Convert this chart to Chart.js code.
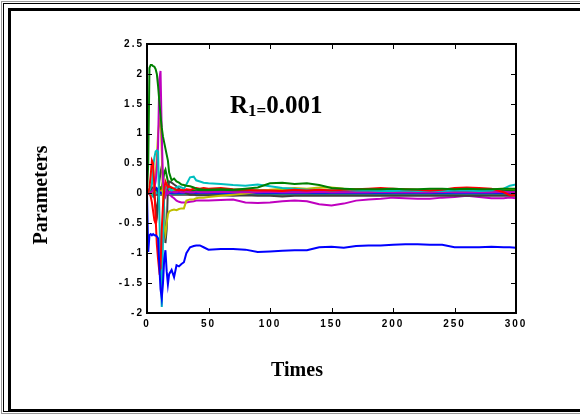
<!DOCTYPE html>
<html>
<head>
<meta charset="utf-8">
<title>Parameters vs Times</title>
<script src="https://cdn.jsdelivr.net/npm/chart.js@4/dist/chart.umd.min.js"></script>
<style>
	body { margin: 0; background: #fff; }
	canvas { display: block; }
</style>
</head>
<body>
<canvas id="params-chart" width="580" height="416"></canvas>

<script>

	// sample times shared by every parameter trace
	var times = [0, 1, 2, 3, 4, 5, 6, 7, 8, 9, 10, 11, 12, 13, 14, 15, 16, 17, 18,
		20, 22, 24, 26, 28, 30, 32, 35, 38, 40, 43, 46,
		50, 60, 70, 80, 90, 100, 110, 120, 130, 140, 150, 160, 170, 180, 190, 200,
		210, 220, 230, 240, 250, 260, 270, 280, 290, 295, 300];

	var blue1 = [0, -0.98, -0.7, -0.68, -0.7, -0.68, -0.7, -0.7, -0.72, -0.75, -1.2, -1.6, -1.75, -1.5, -1.1, -0.95, -1.3, -1.52, -1.35,
		-1.28, -1.4, -1.2, -1.22, -1.18, -1.15, -1.0, -0.9, -0.88, -0.87, -0.87, -0.9,
		-0.94, -0.93, -0.93, -0.94, -0.98, -0.97, -0.96, -0.95, -0.95, -0.9, -0.89, -0.91, -0.88, -0.87, -0.87, -0.86,
		-0.85, -0.85, -0.86, -0.86, -0.9, -0.9, -0.9, -0.89, -0.9, -0.9, -0.91];
	var green1 = [0, 0.5, 2.1, 2.15, 2.15, 2.13, 2.12, 2.08, 2.0, 1.8, 1.55, 1.3, 1.1, 0.95, 0.85, 0.75, 0.65, 0.55, 0.35,
		0.22, 0.25, 0.2, 0.18, 0.15, 0.14, 0.13, 0.12, 0.1, 0.08, 0.07, 0.06,
		0.06, 0.07, 0.06, 0.08, 0.1, 0.17, 0.18, 0.16, 0.17, 0.14, 0.09, 0.08, 0.07, 0.07, 0.07, 0.08,
		0.07, 0.07, 0.08, 0.08, 0.07, 0.08, 0.07, 0.07, 0.08, 0.08, 0.08];
	var red1 = [0, 0, 0.1, 0.3, 0.55, 0.5, 0.1, -0.4, -0.85, -1.1, -1.3, -1.25, -0.6, -0.2, 0.05, 0.2, 0.15, 0.1, 0.12,
		0.1, 0.08, 0.06, 0.05, 0.06, 0.05, 0.07, 0.06, 0.08, 0.09, 0.08, 0.09,
		0.08, 0.09, 0.07, 0.06, 0.05, 0.05, 0.04, 0.06, 0.05, 0.06, 0.05, 0.06, 0.07, 0.08, 0.09, 0.08,
		0.07, 0.06, 0.05, 0.06, 0.09, 0.1, 0.09, 0.08, 0.02, -0.03, -0.03];
	var cyan1 = [0, 0, 0.05, 0.1, 0.15, 0.45, 0.6, 0.7, 0.72, 0.7, -0.3, -1.2, -1.9, -0.8, 0.02, 0.1, 0.12, 0.1, 0.08,
		0.05, 0.08, 0.1, 0.12, 0.1, 0.08, 0.15, 0.27, 0.28, 0.22, 0.2, 0.18,
		0.17, 0.16, 0.14, 0.13, 0.15, 0.12, 0.09, 0.08, 0.06, 0.06, 0.05, 0.06, 0.05, 0.05, 0.04, 0.04,
		0.05, 0.04, 0.05, 0.04, 0.05, 0.05, 0.04, 0.05, 0.08, 0.13, 0.15];
	var magenta1 = [0, 0, 0, 0.02, 0.03, 0.05, 0.1, 0.2, 0.4, 0.8, 1.9, 2.05, 1.0, 0.2, 0.0, -0.05, 0.05, 0.0, 0.02,
		0.03, 0.02, 0.02, 0.03, 0.02, 0.02, 0.03, 0.02, 0.02, 0.03, 0.02, 0.02,
		0.02, 0.03, 0.02, 0.02, 0.02, 0.03, 0.02, 0.02, 0.02, 0.03, 0.02, 0.02, 0.02, 0.02, 0.03, 0.02,
		0.02, 0.02, 0.02, 0.03, 0.02, 0.02, 0.02, 0.02, 0.03, 0.02, 0.02];
	var yellow1 = [0, 0, 0, 0, 0.02, 0.05, 0.1, 0.3, 0.6, 1.0, 1.2, 1.28, 0.7, -0.1, -0.55, -0.67, -0.5, -0.35, -0.3,
		-0.28, -0.27, -0.28, -0.26, -0.25, -0.25, -0.12, -0.1, -0.1, -0.08, -0.07, -0.07,
		-0.06, -0.04, -0.02, 0.0, 0.03, 0.06, 0.08, 0.09, 0.08, 0.1, 0.1, 0.08, 0.07, 0.06, 0.06, 0.05,
		0.06, 0.05, 0.06, 0.07, 0.06, 0.06, 0.07, 0.07, 0.08, 0.08, 0.07];
	var gray1 = [0, 0, 0, 0.05, 0.1, 0.05, -0.05, -0.2, -0.35, -0.1, 0.2, 0.35, 0.45, 0.3, -0.3, -0.83, -0.6, 0.1, 0.2,
		0.18, 0.15, 0.12, 0.08, 0.05, 0.02, 0.0, -0.02, -0.02, -0.03, -0.03, -0.03,
		-0.03, -0.03, -0.04, -0.03, -0.04, -0.04, -0.05, -0.04, -0.04, -0.04, -0.04, -0.04, -0.04, -0.04, -0.04, -0.04,
		-0.04, -0.04, -0.04, -0.04, -0.04, -0.04, -0.04, -0.04, -0.04, -0.04, -0.04];
	var blue2 = [0, 0, 0, 0.02, 0.03, 0.05, 0.08, 0.1, 0.08, 0.03, 0.01, 0.01, 0.0, 0.01, 0.01, 0.01, 0.01, 0.01, 0.01,
		0.01, 0.01, 0.01, 0.01, 0.01, 0.01, 0.01, 0.01, 0.01, 0.01, 0.01, 0.01,
		0.01, 0.01, 0.01, 0.01, 0.01, 0.01, 0.01, 0.01, 0.01, 0.01, 0.01, 0.01, 0.01, 0.01, 0.01, 0.01,
		0.01, 0.01, 0.01, 0.01, 0.01, 0.01, 0.01, 0.01, 0.01, 0.01, 0.01];
	var green2 = [0, 0, 0, 0.02, 0.03, 0.05, 0.05, 0.06, 0.05, 0.08, 0.1, 0.08, 0.1, 0.2, 0.35, 0.4, 0.3, 0.2, 0.1,
		0.08, 0.07, 0.06, 0.06, 0.05, 0.05, 0.05, 0.05, 0.05, 0.05, 0.05, 0.05,
		0.05, 0.05, 0.05, 0.05, 0.05, 0.05, 0.05, 0.05, 0.05, 0.05, 0.05, 0.05, 0.05, 0.05, 0.05, 0.05,
		0.05, 0.05, 0.05, 0.05, 0.05, 0.05, 0.05, 0.05, 0.05, 0.05, 0.05];
	var red2 = [0, 0, 0, -0.05, -0.15, -0.3, -0.45, -0.5, -0.4, -0.2, 0.05, 0.1, 0.08, 0.05, 0.03, 0.02, 0.02, 0.02, 0.02,
		0.02, 0.02, 0.02, 0.03, 0.02, 0.02, 0.02, 0.02, 0.02, 0.02, 0.02, 0.02,
		0.02, 0.02, 0.03, 0.02, 0.02, 0.02, 0.02, 0.02, 0.02, 0.02, 0.02, 0.02, 0.02, 0.02, 0.02, 0.02,
		0.02, 0.02, 0.02, 0.02, 0.03, 0.03, 0.02, 0.02, 0.02, 0.02, 0.02];
	var cyan2 = [0, 0, 0, 0.0, -0.02, -0.05, -0.02, 0.0, 0.02, 0.0, -0.02, 0.0, 0.02, 0.0, 0.0, 0.0, 0.0, 0.0, 0.0,
		0.0, 0.0, 0.0, 0.0, 0.0, 0.0, 0.0, 0.0, 0.0, 0.0, 0.0, 0.0,
		0.0, 0.0, 0.0, 0.0, 0.0, 0.0, 0.0, 0.0, 0.0, 0.0, 0.0, 0.0, 0.0, 0.0, 0.0, 0.0,
		0.0, 0.0, 0.0, 0.0, 0.0, 0.0, 0.0, 0.0, 0.0, 0.0, 0.0];
	var magenta2 = [0, 0, 0, 0.0, 0.02, 0.03, 0.02, 0.0, 0.0, 0.02, 0.03, 0.02, 0.0, 0.02, 0.02, 0.0, 0.0, 0.0, 0.0,
		-0.05, -0.08, -0.12, -0.14, -0.15, -0.15, -0.15, -0.14, -0.13, -0.12, -0.12, -0.12,
		-0.12, -0.11, -0.1, -0.15, -0.16, -0.15, -0.13, -0.12, -0.13, -0.18, -0.2, -0.17, -0.12, -0.1, -0.09, -0.07,
		-0.08, -0.09, -0.09, -0.07, -0.06, -0.04, -0.06, -0.08, -0.08, -0.07, -0.08];
	var yellow2 = [0, 0, 0, 0.0, 0.0, 0.02, 0.03, 0.05, 0.05, 0.05, 0.06, 0.05, 0.05, 0.06, 0.05, 0.05, 0.05, 0.05, 0.05,
		0.05, 0.05, 0.05, 0.05, 0.05, 0.05, 0.05, 0.05, 0.05, 0.05, 0.05, 0.05,
		0.05, 0.05, 0.05, 0.05, 0.05, 0.05, 0.06, 0.06, 0.06, 0.06, 0.06, 0.06, 0.06, 0.06, 0.06, 0.06,
		0.06, 0.06, 0.06, 0.06, 0.06, 0.06, 0.06, 0.06, 0.06, 0.06, 0.06];
	var gray2 = [0, 0, 0, -0.02, -0.03, -0.05, -0.03, -0.02, -0.02, -0.02, -0.02, -0.02, -0.02, -0.02, -0.02, -0.02, -0.02, -0.02, -0.02,
		-0.02, -0.02, -0.02, -0.02, -0.02, -0.02, -0.02, -0.02, -0.02, -0.02, -0.02, -0.02,
		-0.02, -0.02, -0.02, -0.02, -0.02, -0.02, -0.02, -0.02, -0.02, -0.02, -0.02, -0.02, -0.02, -0.02, -0.02, -0.02,
		-0.02, -0.02, -0.02, -0.02, -0.02, -0.02, -0.02, -0.02, -0.02, -0.02, -0.02];

	var seriesList = [blue1, green1, red1, cyan1, magenta1, yellow1, gray1,
		blue2, green2, red2, cyan2, magenta2, yellow2, gray2];
	var seriesColors = ['#0000ff', '#008000', '#ff0000', '#00bfbf', '#bf00bf', '#bfbf00', '#404040'];

	var xTicks = [0, 50, 100, 150, 200, 250, 300];
	var yTicks = [-2, -1.5, -1, -0.5, 0, 0.5, 1, 1.5, 2, 2.5];

	function toPoints(values) {
		return times.map(function (t, i) { return { x: t, y: values[i] }; });
	}

	var datasets = [];
	for (i = 0; i < seriesList.length; i++) {
		datasets.push({
			data: toPoints(seriesList[i]),
			borderColor: seriesColors[i % seriesColors.length],
			borderWidth: 2,
			pointRadius: 0,
			tension: 0,
			fill: false
		});
	}

	var tickFont = { family: '"Liberation Sans", Arial, sans-serif', size: 10, weight: 'bold' };

	// white page with the double frame around the figure
	var framePlugin = {
		id: 'frame',
		beforeDraw: function (chart) {
			var ctx = chart.ctx;
			ctx.save();
			ctx.fillStyle = '#fff';
			ctx.fillRect(0, 0, chart.width, chart.height);
			ctx.strokeStyle = '#999';
			ctx.lineWidth = 1;
			ctx.strokeRect(1.5, 1.5, 800, 412);
			ctx.strokeStyle = '#000';
			ctx.strokeRect(3.5, 3.5, 800, 408);
			ctx.lineWidth = 3;
			ctx.strokeRect(9.5, 9.5, 800, 401);
			ctx.restore();
			// spaced-out tick digits
			ctx.letterSpacing = '2px';
		}
	};

	// closed box with inward tick marks, plus the text labels
	var boxPlugin = {
		id: 'box',
		afterDraw: function (chart) {
			var ctx = chart.ctx;
			var a = chart.chartArea;
			var xs = chart.scales.x;
			var ys = chart.scales.y;
			ctx.save();
			ctx.letterSpacing = '0px';
			ctx.strokeStyle = '#000';
			ctx.lineWidth = 1;
			ctx.beginPath();
			xTicks.forEach(function (v) {
				var px = Math.round(xs.getPixelForValue(v)) + 0.5;
				ctx.moveTo(px, a.bottom); ctx.lineTo(px, a.bottom - 5);
				ctx.moveTo(px, a.top); ctx.lineTo(px, a.top + 5);
			});
			yTicks.forEach(function (v) {
				var py = Math.round(ys.getPixelForValue(v)) + 0.5;
				ctx.moveTo(a.left, py); ctx.lineTo(a.left + 5, py);
				ctx.moveTo(a.right, py); ctx.lineTo(a.right - 5, py);
			});
			ctx.stroke();
			ctx.lineWidth = 2;
			ctx.strokeRect(a.left, a.top, a.right - a.left, a.bottom - a.top);

			ctx.fillStyle = '#000';
			ctx.textBaseline = 'alphabetic';
			ctx.textAlign = 'center';
			ctx.font = 'bold 20px "Liberation Serif", "Times New Roman", serif';
			ctx.fillText('Times', 297, 376);

			ctx.save();
			ctx.translate(47, 195);
			ctx.rotate(-Math.PI / 2);
			ctx.fillText('Parameters', 0, 0);
			ctx.restore();

			// R1=0.001 with the subscript part
			ctx.textAlign = 'left';
			var x0 = 230;
			ctx.font = 'bold 25px "Liberation Serif", "Times New Roman", serif';
			ctx.fillText('R', x0, 113);
			x0 += ctx.measureText('R').width;
			ctx.font = 'bold 17px "Liberation Serif", "Times New Roman", serif';
			ctx.fillText('1=', x0, 116);
			x0 += ctx.measureText('1=').width;
			ctx.font = 'bold 25px "Liberation Serif", "Times New Roman", serif';
			ctx.fillText('0.001', x0, 113);
			ctx.restore();
		}
	};

	function plainLabel(value) {
		return String(value);
	}

	new Chart(document.getElementById('params-chart'), {
		type: 'line',
		data: { datasets: datasets },
		plugins: [framePlugin, boxPlugin],
		options: {
			responsive: false,
			animation: false,
			layout: { padding: { left: 0, right: 64, top: 44, bottom: 0 } },
			plugins: { legend: { display: false }, tooltip: { enabled: false } },
			scales: {
				x: {
					type: 'linear',
					min: 0,
					max: 300,
					afterFit: function (scale) { scale.height = 103; },
					afterBuildTicks: function (scale) {
						scale.ticks = xTicks.map(function (v) { return { value: v }; });
					},
					grid: { display: false, drawTicks: false },
					border: { display: false },
					ticks: { font: tickFont, color: '#000', padding: 5, maxRotation: 0, callback: plainLabel }
				},
				y: {
					type: 'linear',
					min: -2,
					max: 2.5,
					afterFit: function (scale) { scale.width = 147; },
					afterBuildTicks: function (scale) {
						scale.ticks = yTicks.map(function (v) { return { value: v }; });
					},
					grid: { display: false, drawTicks: false },
					border: { display: false },
					ticks: { font: tickFont, color: '#000', padding: 3, callback: plainLabel }
				}
			}
		}
	});

</script>
</body>
</html>
